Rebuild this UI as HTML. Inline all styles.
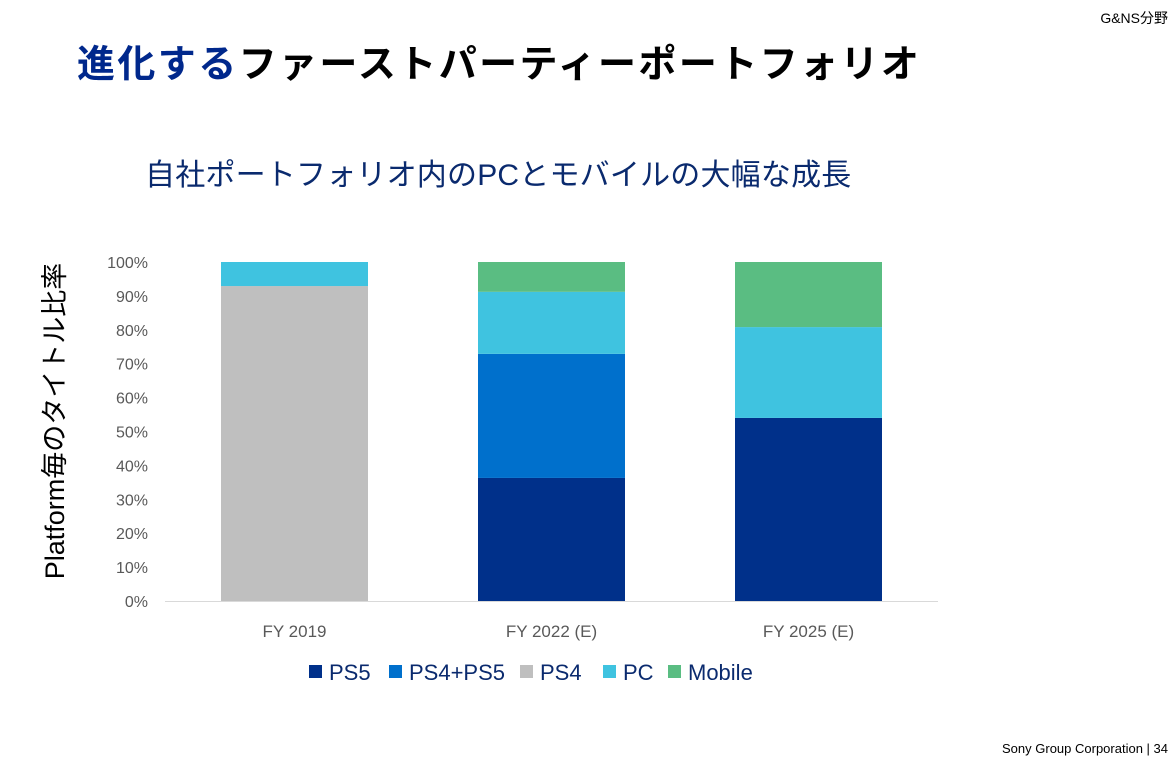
<!DOCTYPE html>
<html><head><meta charset="utf-8"><style>
body{margin:0;width:1176px;height:763px;background:#fff;position:relative;overflow:hidden;font-family:"Liberation Sans","Noto Sans CJK JP",sans-serif}
.abs{position:absolute;white-space:nowrap}
</style></head><body>
<div class="abs" style="right:8px;top:8px;font-size:14px;color:#000">G&amp;NS分野</div>
<div class="abs" style="left:77px;top:33px;font-size:38px;font-weight:bold;letter-spacing:2.4px"><span style="color:#00288c">進化する</span><span style="color:#000">ファーストパーティーポートフォリオ</span></div>
<div class="abs" style="left:145px;top:150px;font-size:30px;letter-spacing:0.2px;color:#0a2a6e">自社ポートフォリオ内のPCとモバイルの大幅な成長</div>
<div class="abs" style="right:8px;top:741px;font-size:13px;color:#000">Sony Group Corporation | 34</div>
<svg id="chart" width="1176" height="763" style="position:absolute;left:0;top:0"></svg>
<script>
const categories=["FY 2019","FY 2022 (E)","FY 2025 (E)"];
const seriesNames=["PS5","PS4+PS5","PS4","PC","Mobile"];
const seriesColors=["#00308a","#0070cc","#bfbfbf","#3fc3e0","#5abd82"];
const ps5=[0,36.3,54.0];
const ps4ps5=[0,36.6,0];
const ps4=[92.9,0,0];
const pc=[7.1,18.3,26.8];
const mobile=[0,8.8,19.2];
const ticks=[0,10,20,30,40,50,60,70,80,90,100];
const NS="http://www.w3.org/2000/svg";
const svg=document.getElementById('chart');
const y0=601,y1=262;
const y=v=>y0-(y0-y1)*v/100;
const xc=i=>294.5+i*257;
const bw=147;
function mk(t,a){const e=document.createElementNS(NS,t);for(const k in a)e.setAttribute(k,a[k]);svg.appendChild(e);return e;}
ticks.forEach(t=>{const e=mk('text',{x:148,y:y(t)+6,'text-anchor':'end','font-size':16,fill:'#595959','font-family':'Liberation Sans, sans-serif'});e.textContent=t+'%';

});
const ax=mk('line',{x1:165,x2:938,y1:y0+0.5,y2:y0+0.5,stroke:'#d9d9d9','stroke-width':1});


const series=[ps5,ps4ps5,ps4,pc,mobile];
categories.forEach((c,i)=>{let acc=0;
series.forEach((s,j)=>{const v=s[i];if(v>0){const r=mk('rect',{x:xc(i)-bw/2,y:y(acc+v),width:bw,height:y(acc)-y(acc+v),fill:seriesColors[j]});

}acc+=v;});
const t=mk('text',{x:xc(i),y:637,'text-anchor':'middle','font-size':17,fill:'#595959','font-family':'Liberation Sans, sans-serif'});t.textContent=c;

});
const yt=mk('text',{transform:'translate(64,421) rotate(-90)','text-anchor':'middle','font-size':27,fill:'#000','font-family':'Liberation Sans, Noto Sans CJK JP, sans-serif'});yt.textContent='Platform毎のタイトル比率';


const lx=[309,389,520,603,668];
seriesNames.forEach((n,j)=>{const r=mk('rect',{x:lx[j],y:665,width:13,height:13,fill:seriesColors[j]});


const t=mk('text',{x:lx[j]+20,y:680,'font-size':22,fill:'#0a2a6e','font-family':'Liberation Sans, sans-serif'});t.textContent=n;

});
</script>
</body></html>
